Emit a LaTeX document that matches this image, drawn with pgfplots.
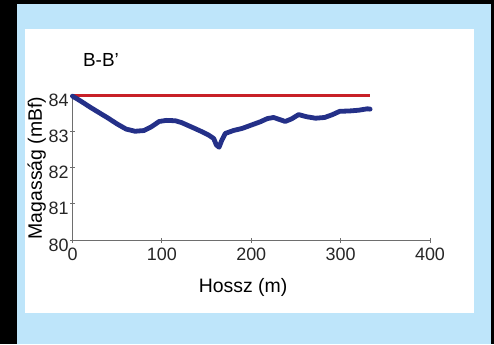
\documentclass[border=0pt]{standalone}
\usepackage{fontspec}
\setmainfont{Liberation Sans}
\usepackage{pgfplots}
\pgfplotsset{compat=1.18}
\definecolor{framebg}{RGB}{190,229,250}
\definecolor{lineblue}{RGB}{36,48,136}
\definecolor{linered}{RGB}{200,32,40}
\definecolor{axgray}{RGB}{110,110,110}
\begin{document}
\begin{tikzpicture}[x=1bp,y=1bp]
\fill[black] (0,0) rectangle (494,-344);
\fill[framebg] (17,-4) rectangle (491,-344);
\fill[white] (25,-29) rectangle (474,-313);
\path[use as bounding box] (0,0) rectangle (494,-344);
\begin{axis}[
  at={(72.5bp,-240bp)}, anchor=south west,
  scale only axis, width=357.5bp, height=145bp,
  xmin=0, xmax=400, ymin=80, ymax=84,
  axis lines*=left,
  axis line style={axgray, line width=0.8bp},
  tick align=center, major tick length=5bp,
  tick style={axgray, line width=0.8bp},
  xtick={0,100,200,300,400}, ytick={80,81,82,83,84},
  /pgf/number format/assume math mode=true,
  tick label style={font=\fontsize{18}{18}\selectfont, text=black!85},
  xticklabel style={yshift=-2bp},
  yticklabel style={xshift=2bp, yshift=-5bp},
  clip=false,
  title={B-B'},
  title style={at={(rel axis cs:0.029,1.2)}, anchor=west, font=\fontsize{19}{19}\selectfont, inner sep=0pt},
  xlabel={Hossz (m)},
  xlabel style={at={(rel axis cs:0.477,-0.324)}, anchor=center, font=\fontsize{19.5}{19.5}\selectfont, inner sep=0pt},
  ylabel={Magasság (mBf)},
  ylabel style={at={(rel axis cs:-0.1,0.497)}, anchor=center, font=\fontsize{19.5}{19.5}\selectfont, inner sep=0pt},
]
\addplot[linered, line width=3bp] coordinates {(0,84) (333,84)};
\addplot[lineblue, line width=4.8bp, line join=round, line cap=round] coordinates {
(0,83.97) (10,83.82) (20,83.66) (30,83.51) (40,83.36) (50,83.20) (60,83.06)
(70,83.00) (80,83.02) (88,83.12) (97,83.27) (105,83.30) (115,83.29) (122,83.24)
(132,83.13) (142,83.02) (152,82.90) (158,82.80) (161,82.62) (164,82.56)
(167,82.75) (171,82.94) (180,83.02) (190,83.08) (200,83.17) (210,83.26)
(218,83.35) (225,83.38) (231,83.33) (238,83.27) (245,83.34) (253,83.46)
(262,83.40) (272,83.36) (282,83.38) (290,83.45) (299,83.55) (310,83.56)
(320,83.58) (330,83.62) (333,83.61)};
\end{axis}
\end{tikzpicture}
\end{document}
